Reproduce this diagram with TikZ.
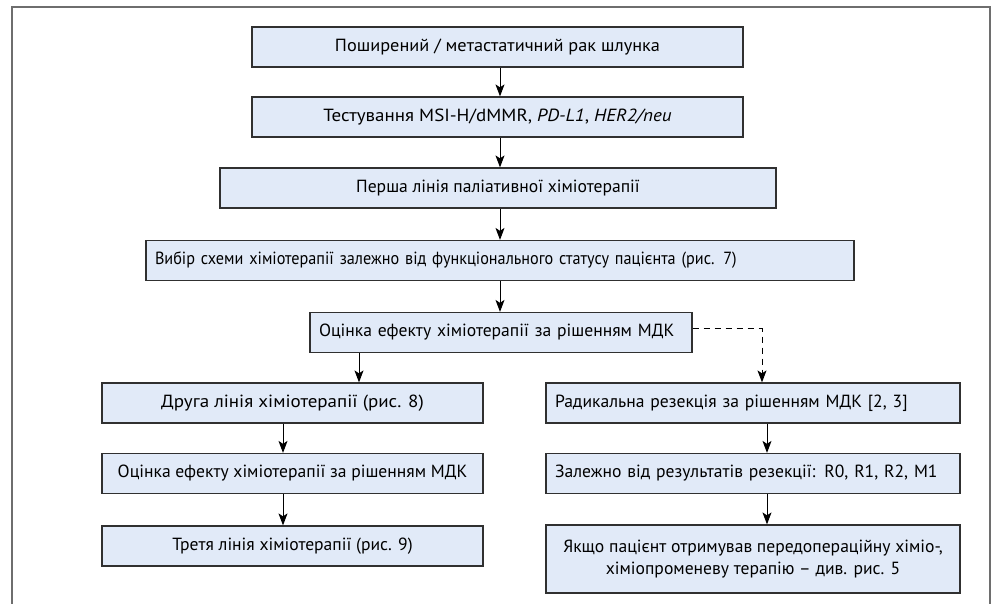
\documentclass[tikz,border=0pt]{standalone}
\usepackage{fontspec}
\setmainfont{PT Sans}
\usetikzlibrary{arrows.meta}
\definecolor{boxfill}{HTML}{E1EAF8}
\definecolor{boxline}{HTML}{303030}
\definecolor{frameline}{HTML}{6E6E6E}
\begin{document}
\begin{tikzpicture}[x=1pt,y=-1pt,
    stepbox/.style={draw=boxline,fill=boxfill,line width=1.2pt,minimum height=40pt,
      inner sep=0pt,align=center,font=\fontsize{17.6}{22}\selectfont},
    leftbox/.style={stepbox,align=left,inner xsep=9pt},
    stretch/.style={font=\fontsize{17.6}{22}\selectfont\addfontfeature{FakeStretch=#1}},
    arr/.style={-{Stealth[length=12pt,width=9pt,inset=3pt]},line width=1pt,black},
    darr/.style={arr,dash pattern=on 6pt off 5pt}]
  \useasboundingbox (0,0) rectangle (997,604);
  % open frame, cut off at the bottom
  \draw[frameline,line width=1.5pt] (12,604) -- (12,7) -- (990,7) -- (990,604);

  % main column
  \node[stepbox,stretch=1.04,minimum width=491pt] (b1) at (497.5,47) {Поширений / метастатичний рак шлунка};
  \node[stepbox,stretch=1.08,minimum width=491pt] (b2) at (497.5,117) {Тестування MSI-H/dMMR, \textit{PD-L1}, \textit{HER2/neu}};
  \node[stepbox,minimum width=556pt] (b3) at (498,188) {Перша лінія паліативної хіміотерапії};
  \node[leftbox,stretch=0.92,text width=690pt] (b4) at (500,260.5) {Вибір схеми хіміотерапії залежно від функціонального статусу пацієнта (рис. 7)};
  \node[leftbox,text width=364pt] (b5) at (501,332.5) {Оцінка ефекту хіміотерапії за рішенням МДК};

  % left branch
  \node[stepbox,stretch=1.08,minimum width=381pt] (b6) at (292.5,403) {Друга лінія хіміотерапії (рис. 8)};
  \node[stepbox,minimum width=381pt] (b7) at (292.5,473.5) {Оцінка ефекту хіміотерапії за рішенням МДК};
  \node[stepbox,minimum width=381pt] (b8) at (292.5,546) {Третя лінія хіміотерапії (рис. 9)};

  % right branch
  \node[leftbox,text width=396pt] (b9) at (753,403) {Радикальна резекція за рішенням МДК [2, 3]};
  \node[leftbox,text width=396pt] (b10) at (753,473.5) {Залежно від результатів резекції: R0, R1, R2, M1};
  \node[stepbox,minimum width=414pt,minimum height=68pt] (b11) at (753,559) {Якщо пацієнт отримував передопераційну хіміо-,\\хіміопроменеву терапію – див. рис. 5};

  \draw[arr] ([xshift=2.5pt]b1.south) -- ([xshift=2.5pt]b2.north);
  \draw[arr] ([xshift=2.5pt]b2.south) -- ([xshift=2pt]b3.north);
  \draw[arr] ([xshift=2pt]b3.south) -- (b4.north);
  \draw[arr] (b4.south) -- ([xshift=-1pt]b5.north);
  \draw[arr] ([xshift=-142pt]b5.south) -- ([xshift=66.5pt]b6.north);
  \draw[arr] ([xshift=-9.5pt]b6.south) -- ([xshift=-9.5pt]b7.north);
  \draw[arr] ([xshift=-9.5pt]b7.south) -- ([xshift=-9.5pt]b8.north);
  \draw[arr] ([xshift=14pt]b9.south) -- ([xshift=14pt]b10.north);
  \draw[arr] ([xshift=14pt]b10.south) -- ([xshift=14pt]b11.north);
  \draw[darr] ([yshift=3.5pt]b5.east) -| ([xshift=9pt]b9.north);
\end{tikzpicture}
\end{document}
